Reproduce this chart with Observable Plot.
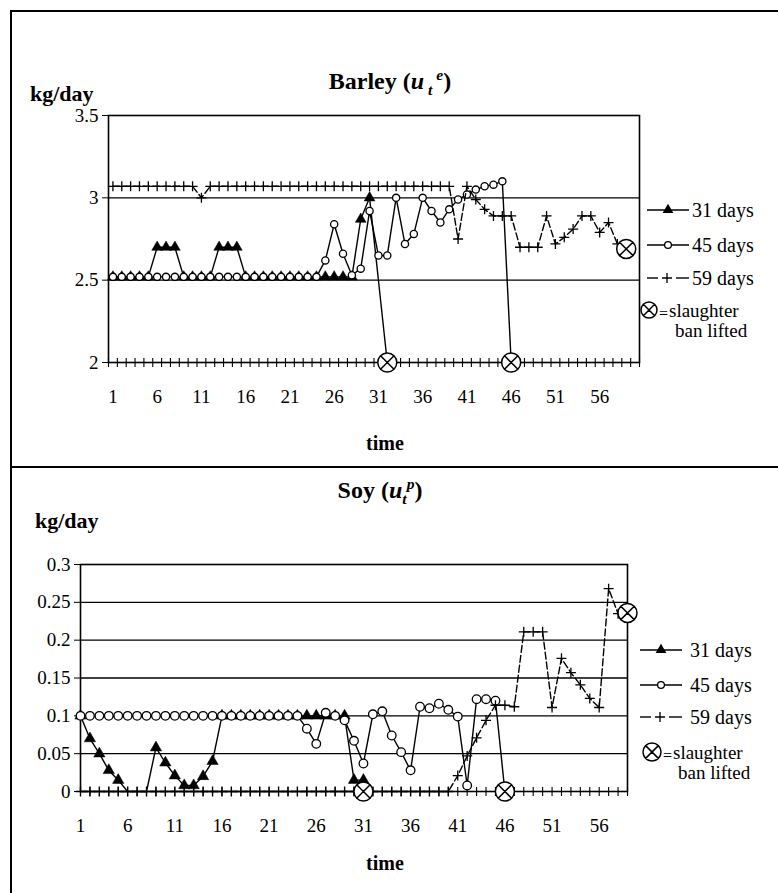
<!DOCTYPE html>
<html><head><meta charset="utf-8">
<script src="https://cdn.jsdelivr.net/npm/d3@7"></script>
<script src="https://cdn.jsdelivr.net/npm/@observablehq/plot@0.6"></script>
<style>
body{margin:0;background:#fff;font-family:"Liberation Serif","Times New Roman",serif;color:#000;}
#page{position:relative;width:778px;height:893px;overflow:hidden;background:#fff;}
.abs{position:absolute;white-space:nowrap;line-height:1;}
.title{font-weight:bold;font-size:24px;transform:translate(-50%,-50%);}
.ylab{font-weight:bold;font-size:22px;transform:translateY(-50%);}
.xlab{font-weight:bold;font-size:20px;transform:translate(-50%,-50%);}
.box{position:absolute;left:10px;top:10px;width:900px;height:1000px;border:2px solid #000;}
.divider{position:absolute;left:10px;top:466px;width:900px;height:0;border-top:2px solid #000;}
sub,sup{font-size:65%;}
</style></head>
<body><div id="page">
<div class="box"></div>
<div class="divider"></div>
<div class="abs title" style="left:390px;top:82px">Barley (<i>u</i><sub> <i>t</i></sub><sup> <i>e</i></sup>)</div>
<div class="abs ylab" style="left:30px;top:94px">kg/day</div>
<div class="abs xlab" style="left:385px;top:443px">time</div>
<div class="abs title" style="left:380px;top:491px">Soy (<i>u</i><sub><i>t</i></sub><sup><i>p</i></sup>)</div>
<div class="abs ylab" style="left:35px;top:521px">kg/day</div>
<div class="abs xlab" style="left:385px;top:863px">time</div>
</div>
<script>
// ---------------- data ----------------
const xTickLabels = [1, 6, 11, 16, 21, 26, 31, 36, 41, 46, 51, 56];

// Barley (kg/day), index 0 = time 1
const barleyYTicks = [2, 2.5, 3, 3.5];
const barleyGrid = [2.5, 3];
const barley31 = [2.52,2.52,2.52,2.52,2.52, 2.7,2.7,2.7, 2.52,2.52,2.52,2.52, 2.7,2.7,2.7,
  2.52,2.52,2.52,2.52,2.52,2.52,2.52,2.52,2.52,2.52,2.52,2.52,2.52, 2.87, 3.0];
const barley45 = [2.52,2.52,2.52,2.52,2.52,2.52,2.52,2.52,2.52,2.52,2.52,2.52,
  2.52,2.52,2.52,2.52,2.52,2.52,2.52,2.52,2.52,2.52,2.52,2.52,
  2.62,2.84,2.66,2.53,2.57,2.92,2.65,2.65,3.0,2.72,2.78,3.0,2.92,2.85,2.93,2.99,3.02,3.05,3.07,3.08,3.1];
const barley59 = [3.07,3.07,3.07,3.07,3.07,3.07,3.07,3.07,3.07,3.07, 3.0,
  3.07,3.07,3.07,3.07,3.07,3.07,3.07,3.07,3.07,3.07,3.07,3.07,3.07,3.07,3.07,3.07,3.07,3.07,
  3.07,3.07,3.07,3.07,3.07,3.07,3.07,3.07,3.07,3.07,
  2.75,3.07,2.99,2.93,2.89,2.89,2.89,2.7,2.7,2.7,2.89,2.72,2.76,2.81,2.89,2.89,2.79,2.85,2.72];
const barleyBanTime = [32, 46, 59];
const barleyBanValue = [2, 2, 2.69];

// Soy (kg/day)
const soyYTicks = [0, 0.05, 0.1, 0.15, 0.2, 0.25, 0.3];
const soyGrid = [0.05, 0.1, 0.15, 0.2, 0.25];
const soy31 = [0.1,0.07,0.05,0.028,0.015,0,0,0,0.058,0.038,0.021,0.008,0.008,0.02,0.04,
  0.1,0.1,0.1,0.1,0.1,0.1,0.1,0.1,0.1, 0.1,0.1,0.1,0.1,0.1, 0.015,0.015];
const soy45 = [0.1,0.1,0.1,0.1,0.1,0.1,0.1,0.1,0.1,0.1,0.1,0.1,0.1,0.1,0.1,0.1,0.1,0.1,0.1,0.1,0.1,0.1,0.1,0.1,
  0.083,0.063,0.104,0.1,0.094,0.067,0.037,0.102,0.106,0.074,0.052,0.028,0.112,0.11,0.116,0.108,0.099,0.008,0.122,0.122,0.12];
const soy59 = [0,0,0,0,0,0,0,0,0,0,0,0,0,0,0,0,0,0,0,0,0,0,0,0,0,0,0,0,0,0,0,0,0,0,0,0,0,0,0,0,
  0.021,0.047,0.071,0.094,0.114,0.114,0.112,0.211,0.211,0.211,0.111,0.176,0.157,0.141,0.123,0.111,0.268,0.235];
const soyBanTime = [31, 46, 59];
const soyBanValue = [0, 0, 0.236];

const legendLabels = ["31 days", "45 days", "59 days"];

// ---------------- symbols ----------------
const plusSym = {draw(ctx, size){ const r = Math.sqrt(size/Math.PI); ctx.moveTo(-r,0); ctx.lineTo(r,0); ctx.moveTo(0,-r); ctx.lineTo(0,r); }};
const otimesSym = {draw(ctx, size){ const r = Math.sqrt(size/Math.PI); ctx.moveTo(r,0); ctx.arc(0,0,r,0,2*Math.PI); const a = r*Math.SQRT1_2; ctx.moveTo(-a,-a); ctx.lineTo(a,a); ctx.moveTo(-a,a); ctx.lineTo(a,-a); }};
const vtickSym = {draw(ctx, size){ const r = Math.sqrt(size/Math.PI); ctx.moveTo(0,-r); ctx.lineTo(0,r); }};

const pts = arr => arr.map((v,i)=>({t:i+1, v})).filter(d=>d.v!=null);
const withBan = (arr, bt, bv) => pts(arr).concat([{t:bt, v:bv}]);

function panel({s31, s45, s59, banT, banV, yTicks, grid, xDomain, crosses, w, h, ml, mr, mt, mb, r31, r45}){
  const yMin = yTicks[0];
  const ban = banT.map((t,i)=>({t, v:banV[i]}));
  return Plot.plot({
    width: w, height: h, marginLeft: ml, marginRight: mr, marginTop: mt, marginBottom: mb,
    style: {fontFamily: "Liberation Serif, Times New Roman, serif", fontSize: "19px", color: "black", background: "transparent", overflow: "visible"},
    x: {domain: xDomain, ticks: xTickLabels, tickSize: 0, tickPadding: 27, label: null, tickFormat: d => String(d)},
    y: {domain: [yTicks[0], yTicks[yTicks.length-1]], ticks: yTicks, tickSize: 6, tickPadding: 4, label: null, tickFormat: d => String(d)},
    marks: [
      Plot.ruleY(grid, {stroke: "black", strokeWidth: 1.4}),
      Plot.frame({stroke: "black", strokeWidth: 1.6}),
      Plot.dot(crosses, {x: d => d, y: () => yMin, symbol: vtickSym, r: 4.5, stroke: "black", fill: "none", strokeWidth: 1.1}),
      Plot.line(withBan(s31, banT[0], banV[0]), {x: "t", y: "v", stroke: "black", strokeWidth: 1.4}),
      Plot.dot(pts(s31).filter(d => d.v > 0), {x: "t", y: "v", symbol: "triangle", r: r31, fill: "black", stroke: "black", strokeWidth: 0.5}),
      Plot.line(withBan(s45, banT[1], banV[1]), {x: "t", y: "v", stroke: "black", strokeWidth: 1.4}),
      Plot.dot(pts(s45), {x: "t", y: "v", symbol: "circle", r: r45, fill: "white", stroke: "black", strokeWidth: 1.3}),
      Plot.line(withBan(s59, banT[2], banV[2]), {x: "t", y: "v", stroke: "black", strokeWidth: 1.4, strokeDasharray: "7,3"}),
      Plot.dot(pts(s59), {x: "t", y: "v", symbol: plusSym, r: 5, fill: "none", stroke: "black", strokeWidth: 1.3}),
      Plot.dot(ban, {x: "t", y: "v", symbol: otimesSym, r: 9.5, fill: "white", stroke: "black", strokeWidth: 1.5})
    ]
  });
}

const page = document.getElementById("page");

const barleyChart = panel({s31: barley31, s45: barley45, s59: barley59, banT: barleyBanTime, banV: barleyBanValue,
  yTicks: barleyYTicks, grid: barleyGrid, xDomain: [0.5, 60.5], crosses: d3.range(0.5, 61, 1),
  w: 660, h: 312, ml: 108, mr: 21, mt: 15, mb: 50, r31: 4, r45: 3.6});
barleyChart.style.position = "absolute"; barleyChart.style.left = "0px"; barleyChart.style.top = "100px";
page.appendChild(barleyChart);

const soyChart = panel({s31: soy31, s45: soy45, s59: soy59, banT: soyBanTime, banV: soyBanValue,
  yTicks: soyYTicks, grid: soyGrid, xDomain: [1, 59], crosses: d3.range(1, 60, 1),
  w: 660, h: 301, ml: 80, mr: 33, mt: 24, mb: 50, r31: 4.2, r45: 4.3});
soyChart.style.position = "absolute"; soyChart.style.left = "0px"; soyChart.style.top = "540px";
page.appendChild(soyChart);

// ---------------- legends ----------------
const svg = d3.select(page).append("svg").attr("width", 778).attr("height", 893)
  .style("position", "absolute").style("left", 0).style("top", 0).style("pointer-events", "none")
  .style("font-family", "Liberation Serif, Times New Roman, serif");

function legend(x0, rows, textX, ban){
  const kinds = ["tri", "circ", "plus"];
  rows.forEach((y, i) => {
    const g = svg.append("g");
    if (kinds[i] === "plus") {
      g.append("line").attr("x1", x0).attr("x2", x0+11).attr("y1", y).attr("y2", y).attr("stroke", "black").attr("stroke-width", 1.4);
      g.append("line").attr("x1", x0+29).attr("x2", x0+42).attr("y1", y).attr("y2", y).attr("stroke", "black").attr("stroke-width", 1.4);
      g.append("path").attr("d", `M${x0+15},${y}h10M${x0+20},${y-5}v10`).attr("stroke", "black").attr("stroke-width", 1.3);
    } else {
      g.append("line").attr("x1", x0).attr("x2", x0+42).attr("y1", y).attr("y2", y).attr("stroke", "black").attr("stroke-width", 1.4);
      if (kinds[i] === "tri") g.append("path").attr("d", d3.symbol(d3.symbolTriangle, 50)()).attr("transform", `translate(${x0+21},${y})`).attr("fill", "black");
      else g.append("circle").attr("cx", x0+21).attr("cy", y).attr("r", 3.4).attr("fill", "white").attr("stroke", "black").attr("stroke-width", 1.3);
    }
    g.append("text").attr("x", textX).attr("y", y).attr("dominant-baseline", "central").attr("font-size", 20).text(legendLabels[i]);
  });
  svg.append("path").attr("d", d3.symbol(otimesSym, Math.PI*ban.r*ban.r)()).attr("transform", `translate(${ban.x},${ban.y})`)
    .attr("fill", "white").attr("stroke", "black").attr("stroke-width", 1.5);
  svg.append("text").attr("x", ban.x + ban.r + 2).attr("y", ban.y + 3).attr("dominant-baseline", "central").attr("font-size", 16).text("=");
  svg.append("text").attr("x", ban.x + ban.r + 12).attr("y", ban.y).attr("dominant-baseline", "central").attr("font-size", 19).text("slaughter");
  svg.append("text").attr("x", ban.x + 26).attr("y", ban.y + 20).attr("dominant-baseline", "central").attr("font-size", 19).text("ban lifted");
}
legend(647, [210, 245, 278], 692, {x: 649, y: 310, r: 8});
legend(640, [650, 685, 717], 690, {x: 652, y: 752, r: 9});
</script>
</body></html>
